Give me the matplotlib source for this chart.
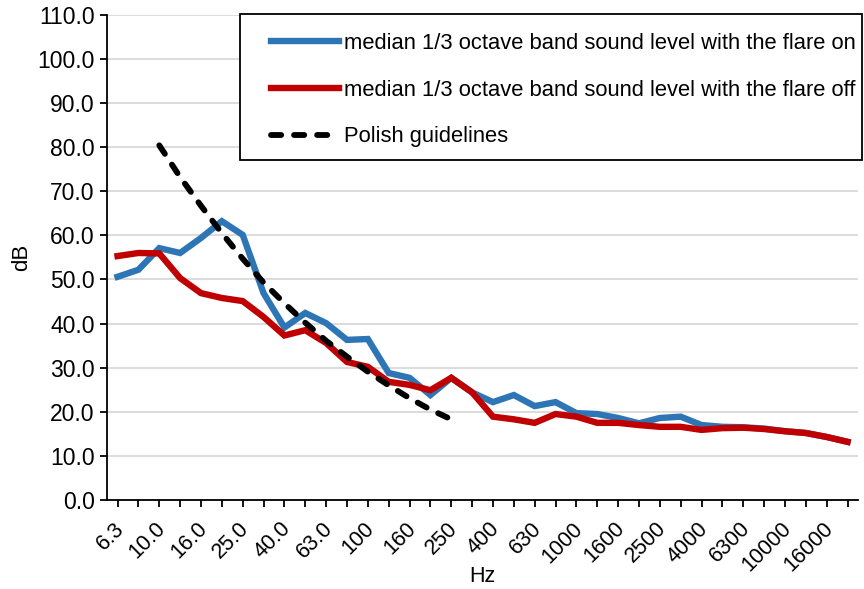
import matplotlib
matplotlib.use('Agg')
import matplotlib.pyplot as plt
from matplotlib.patches import Rectangle
from matplotlib.transforms import ScaledTranslation

plt.rcParams['font.family'] = ['Liberation Sans', 'DejaVu Sans']

# 1/3 octave band centre frequencies (Hz)
freq_labels = ['6.3', '8.0', '10.0', '12.5', '16.0', '20.0', '25.0', '31.5', '40.0', '50.0',
               '63.0', '80.0', '100', '125', '160', '200', '250', '315', '400', '500',
               '630', '800', '1000', '1250', '1600', '2000', '2500', '3150', '4000', '5000',
               '6300', '8000', '10000', '12500', '16000', '20000']

# median sound level, flare on (dB)
flare_on = [50.6, 52.2, 57.1, 56.0, 59.4, 63.2, 60.1, 46.9, 39.1, 42.4,
            40.1, 36.3, 36.5, 28.8, 27.7, 23.8, 27.7, 24.4, 22.2, 23.8,
            21.3, 22.2, 19.7, 19.5, 18.6, 17.4, 18.6, 18.9, 17.0, 16.6,
            16.5, 16.2, 15.6, 15.2, 14.3, 13.2]

# median sound level, flare off (dB)
flare_off = [55.3, 56.0, 55.9, 50.3, 46.9, 45.8, 45.1, 41.5, 37.3, 38.5,
             35.6, 31.3, 30.2, 26.8, 26.1, 24.9, 27.7, 24.4, 18.9, 18.3,
             17.5, 19.5, 18.9, 17.5, 17.5, 17.0, 16.6, 16.6, 15.9, 16.3,
             16.4, 16.1, 15.6, 15.2, 14.3, 13.2]

# Polish guidelines, 10 Hz - 250 Hz
polish_labels = ['10.0', '12.5', '16.0', '20.0', '25.0', '31.5', '40.0', '50.0',
                 '63.0', '80.0', '100', '125', '160', '200', '250']
polish = [80.4, 73.2, 66.7, 60.5, 54.7, 49.3, 44.6, 40.2, 36.1, 32.5,
          29.1, 26.0, 23.1, 20.5, 18.3]

x = list(range(len(freq_labels)))
xp = [freq_labels.index(f) for f in polish_labels]

fig, ax = plt.subplots(figsize=(8.64, 5.89), dpi=100)
fig.subplots_adjust(left=0.124, right=0.993, top=0.975, bottom=0.151)

ax.plot(x, flare_on, color='#2E75B6', lw=4.6, solid_joinstyle='miter',
        label='median 1/3 octave band sound level with the flare on')
ax.plot(x, flare_off, color='#C00000', lw=4.6, solid_joinstyle='miter',
        label='median 1/3 octave band sound level with the flare off')
ax.plot(xp, polish, color='black', lw=4.2, ls=(0, (1.75, 2.2)), dash_capstyle='round',
        label='Polish guidelines')

ax.set_xlim(-0.5, len(freq_labels) - 0.5)
ax.set_ylim(0, 110)
ax.set_yticks(range(0, 111, 10))
ax.set_yticklabels([f'{v:.1f}' for v in range(0, 111, 10)])
ax.set_xticks(x)
ax.set_xticklabels([lab if i % 2 == 0 else '' for i, lab in enumerate(freq_labels)],
                   rotation=45, ha='right', va='top', rotation_mode='anchor')
ax.tick_params(axis='both', length=5, width=1.3, color='black')
ax.tick_params(axis='y', labelsize=16.5, pad=4)
ax.tick_params(axis='x', labelsize=15.5, pad=8)
shift = ScaledTranslation(-4 / 100, 0, fig.dpi_scale_trans)
for lab in ax.get_xticklabels():
    lab.set_transform(lab.get_transform() + shift)

ax.grid(axis='y', color='#D9D9D9', lw=1.3)
ax.set_axisbelow(True)
for s in ['top', 'right']:
    ax.spines[s].set_visible(False)
for s in ['left', 'bottom']:
    ax.spines[s].set_linewidth(1.3)

ax.set_xlabel('Hz', fontsize=15.5, va='center')
ax.xaxis.set_label_coords(0.5, -0.158)
ax.set_ylabel('dB', fontsize=16, labelpad=4)

# legend frame drawn separately so the entries can sit like the original
ax.add_patch(Rectangle((240 / 864, 1 - 160 / 589), 622 / 864, 146 / 589,
                       transform=fig.transFigure, clip_on=False, facecolor='white',
                       edgecolor='black', lw=1.3, zorder=5))
leg = ax.legend(loc='upper right', bbox_to_anchor=(874 / 864, 1 - 14 / 589),
                bbox_transform=fig.transFigure, fontsize=15.8, frameon=False,
                handlelength=3.1, handletextpad=0.2, labelspacing=1.18,
                borderpad=0.85, borderaxespad=0)
leg.set_zorder(10)

fig.savefig('out.png', dpi=100)
